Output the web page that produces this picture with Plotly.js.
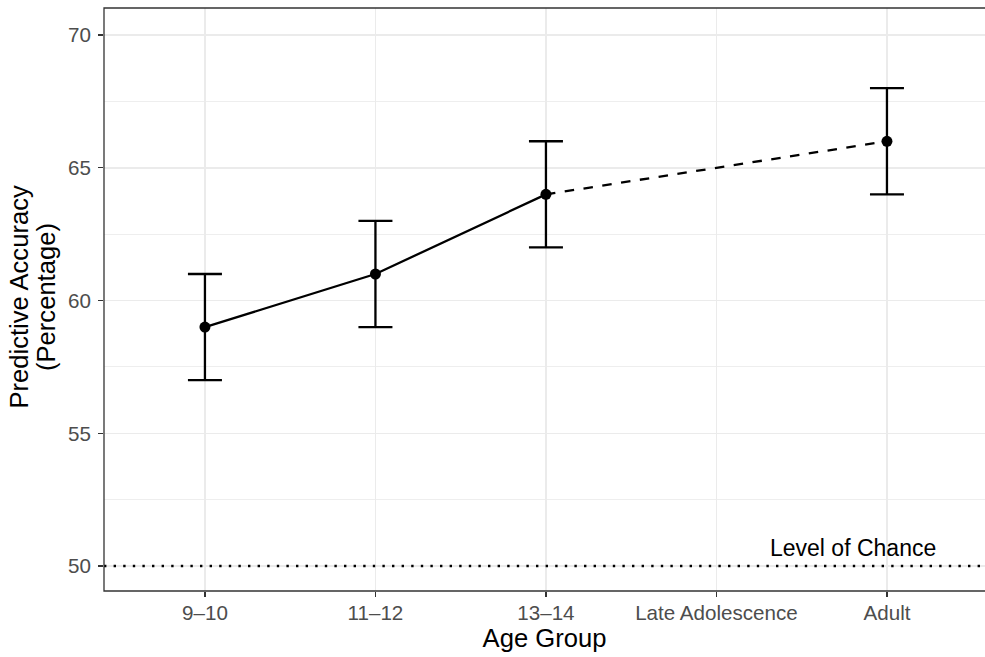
<!DOCTYPE html>
<html>
<head>
<meta charset="utf-8">
<script src="https://cdn.plot.ly/plotly-3.0.1.min.js"></script>
<style>html,body{margin:0;padding:0;background:#fff;}#chart{width:985px;height:657px;}</style>
</head>
<body>
<div id="chart"></div>
<script>
const ageGroups = ['9–10', '11–12', '13–14', 'Late Adolescence', 'Adult'];
const observedGroups = ['9–10', '11–12', '13–14', 'Adult'];
const accuracy = [59, 61, 64, 66];
const errorHalf = [2, 2, 2, 2];
const solidGroups = ['9–10', '11–12', '13–14'];
const solidAccuracy = [59, 61, 64];
const dashedGroups = ['13–14', 'Adult'];
const dashedAccuracy = [64, 66];
const chanceLevel = 50;
const chanceLabel = 'Level of Chance';
const yTicks = [50, 55, 60, 65, 70];

const FONT = 'Liberation Sans, Arial, Helvetica, sans-serif';

const traces = [
  {x: solidGroups, y: solidAccuracy, type: 'scatter', mode: 'lines',
   line: {color: '#000', width: 2.3}, hoverinfo: 'skip', showlegend: false},
  {x: dashedGroups, y: dashedAccuracy, type: 'scatter', mode: 'lines',
   line: {color: '#000', width: 2.3, dash: '9.5px,9.5px'}, hoverinfo: 'skip', showlegend: false},
  {x: observedGroups, y: accuracy, type: 'scatter', mode: 'markers',
   marker: {color: '#000', size: 11},
   error_y: {type: 'data', array: errorHalf, visible: true, color: '#000', thickness: 2.3, width: 17},
   showlegend: false}
];

const layout = {
  width: 985, height: 657,
  margin: {l: 104, r: 0, t: 8, b: 66},
  paper_bgcolor: '#fff', plot_bgcolor: '#fff',
  font: {family: FONT, color: '#4d4d4d'},
  showlegend: false,
  xaxis: {
    type: 'category', categoryorder: 'array', categoryarray: ageGroups,
    range: [-0.592, 4.575],
    showgrid: true, gridcolor: '#ebebeb', gridwidth: 1.5,
    zeroline: false, showline: false,
    ticks: 'outside', ticklen: 5, tickwidth: 1.3, tickcolor: '#333',
    tickfont: {size: 20.6, color: '#4d4d4d', family: FONT},
    ticklabelstandoff: -2,
    title: {text: 'Age Group', font: {size: 25.6, color: '#000', family: FONT}, standoff: 5}
  },
  yaxis: {
    range: [49.06, 71.02],
    tickvals: yTicks,
    showgrid: true, gridcolor: '#ebebeb', gridwidth: 1.5,
    minor: {dtick: 2.5, tick0: 50, showgrid: true, gridcolor: '#ebebeb', gridwidth: 0.85, ticks: ''},
    zeroline: false, showline: false,
    ticks: 'outside', ticklen: 5, tickwidth: 1.3, tickcolor: '#333',
    tickfont: {size: 20.6, color: '#4d4d4d', family: FONT},
    ticklabelstandoff: 3
  },
  shapes: [
    {type: 'line', xref: 'paper', yref: 'y', x0: 0, x1: 1, y0: chanceLevel, y1: chanceLevel,
     line: {color: '#000', width: 2.4, dash: '2.4px,7.2px'}},
    {type: 'rect', xref: 'paper', yref: 'paper', x0: 0, x1: 1.02, y0: 0, y1: 1,
     line: {color: '#333', width: 1.3}, fillcolor: 'rgba(0,0,0,0)'}
  ],
  annotations: [
    {text: chanceLabel, xref: 'x', yref: 'y', x: 3.8, y: chanceLevel, yanchor: 'bottom', yshift: 3,
     showarrow: false, font: {size: 23, color: '#000', family: FONT}},
    {text: 'Predictive Accuracy', xref: 'paper', yref: 'paper', x: -0.0965, y: 0.505, xanchor: 'center', yanchor: 'middle',
     textangle: -90, showarrow: false, font: {size: 25.6, color: '#000', family: FONT}},
    {text: '(Percentage)', xref: 'paper', yref: 'paper', x: -0.0665, y: 0.505, xanchor: 'center', yanchor: 'middle',
     textangle: -90, showarrow: false, font: {size: 25.6, color: '#000', family: FONT}}
  ]
};

Plotly.newPlot('chart', traces, layout, {displayModeBar: false, staticPlot: true});
</script>
</body>
</html>
